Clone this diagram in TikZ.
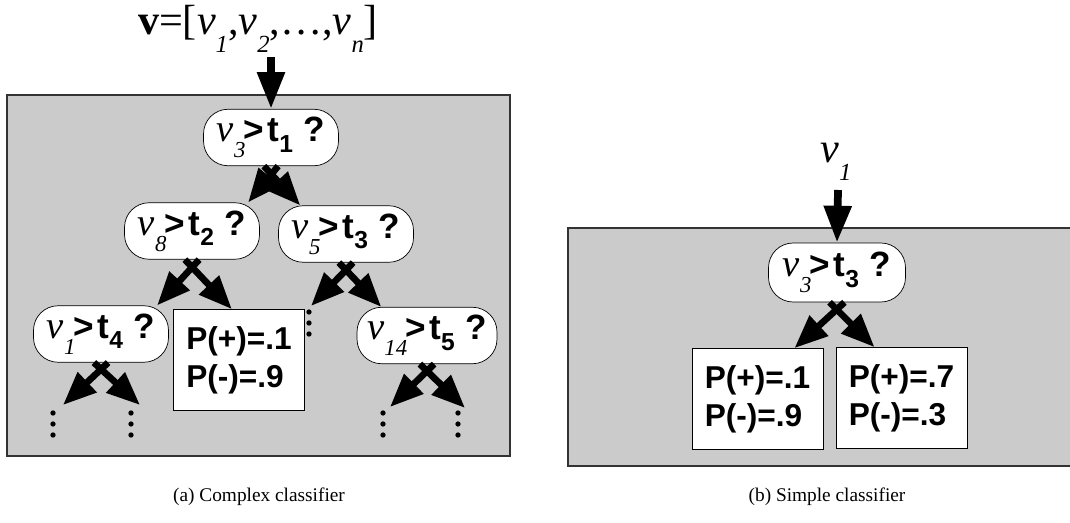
\documentclass[tikz,border=0pt]{standalone}
\usepackage{fontspec}
\setmainfont{Liberation Serif}
\setsansfont{Liberation Sans}
\usetikzlibrary{arrows.meta}

\definecolor{panelgray}{RGB}{203,203,203}

% low italic subscripts (serif) and sans subscripts
\newcommand{\lsub}[1]{\raisebox{-10pt}{\fontsize{14}{14}\selectfont\itshape #1}}
\newcommand{\vsub}[1]{\raisebox{-9pt}{\fontsize{13}{13}\selectfont\itshape #1}}
\newcommand{\tsub}[1]{\raisebox{-6pt}{\fontsize{14}{14}\selectfont #1}}
% test  v_i > t_j ?
\newcommand{\cond}[2]{{\fontsize{22}{22}\selectfont\itshape v}\vsub{#1}\kern-1pt{\sffamily\bfseries\fontsize{20}{20}\selectfont >\kern2pt t\tsub{#2}\kern6pt ?}}

\begin{document}
\begin{tikzpicture}[x=0.02cm, y=-0.02cm,
  panel/.style={fill=panelgray, draw=black!80, line width=0.9pt},
  test/.style={draw, thin, fill=white, rounded corners=14pt, minimum width=2.7cm, minimum height=1.13cm, inner sep=0pt},
  leaf/.style={draw, thin, fill=white, minimum width=2.62cm, minimum height=2.02cm, inner sep=0pt, align=left, font=\sffamily\bfseries\fontsize{18}{21.5}\selectfont},
  link/.style={line width=3.8pt, -{Triangle[length=19pt,width=15pt]}},
  feed/.style={line width=4.4pt, -{Triangle[length=21pt,width=15pt]}},
  caption/.style={font=\fontsize{11}{13}\selectfont}]
\useasboundingbox (0,0) rectangle (1070,523);

% Gray panels
\draw[panel] (7,95) rectangle (510,456);
\draw[panel] (568,228) rectangle (1076,466);

% (a) Complex classifier
\node[anchor=base] (vec) at (258,35) {\fontsize{24}{24}\selectfont\textbf{v}=[\textit{v}\lsub{1},\textit{v}\lsub{2},\ldots,\textit{v}\lsub{n}]};
\coordinate (vin) at (271,57);

\node[test] (t1) at (271,137.5) {\cond{3}{1}};
\node[test] (t2) at (192,231) {\cond{8}{2}};
\node[test] (t3) at (346,234) {\cond{5}{3}};
\node[test] (t4) at (101,334) {\cond{1}{4}};
\node[leaf] (pa) at (239,360) {P(+)=.1\\P(-)=.9};
\node[test, minimum width=2.8cm] (t5) at (427,335.5) {\cond{14}{5}};

% free ends over the dots
\coordinate (e3) at (311,306);
\coordinate (e4l) at (63,405);
\coordinate (e4r) at (140,405);
\coordinate (e5l) at (390,407);
\coordinate (e5r) at (465,408);

\draw[feed] (vin) -- (t1.north);
\draw[link] (t1.-76) -- (t2.27);
\draw[link] (t1.-104) -- (t3.148);
\draw[link] (t2.-76) -- (t4.27);
\draw[link] (t2.-104) -- (pa.98);
\draw[link] (t3.-76) -- (e3);
\draw[link] (t3.-104) -- (t5.148);
\draw[link] (t4.-76) -- (e4l);
\draw[link] (t4.-104) -- (e4r);
\draw[link] (t5.-76) -- (e5l);
\draw[link] (t5.-104) -- (e5r);

% dots
\foreach \x/\y in {53/413, 131/413, 309/312, 383/413, 458/413}
  \foreach \k in {0,1,2}
    \fill (\x,\y+11*\k) circle (1.5pt);

\node[caption] (capa) at (259,497) {(a) Complex classifier};

% (b) Simple classifier
\node[anchor=base] (vone) at (836,163) {\fontsize{24}{24}\selectfont\textit{v}\lsub{1}};
\coordinate (rin) at (838,190);

\node[test, minimum width=2.74cm, minimum height=1.18cm] (r1) at (837,272.5) {\cond{3}{3}};
\node[leaf] (pb) at (757.5,399) {P(+)=.1\\P(-)=.9};
\node[leaf] (pc) at (901.5,398) {P(+)=.7\\P(-)=.3};

\draw[feed] (rin) -- (r1.north);
\draw[link] (r1.-76) -- (pb.54);
\draw[link] (r1.-104) -- (pc.118);

\node[caption] (capb) at (827,497) {(b) Simple classifier};

\end{tikzpicture}
\end{document}
